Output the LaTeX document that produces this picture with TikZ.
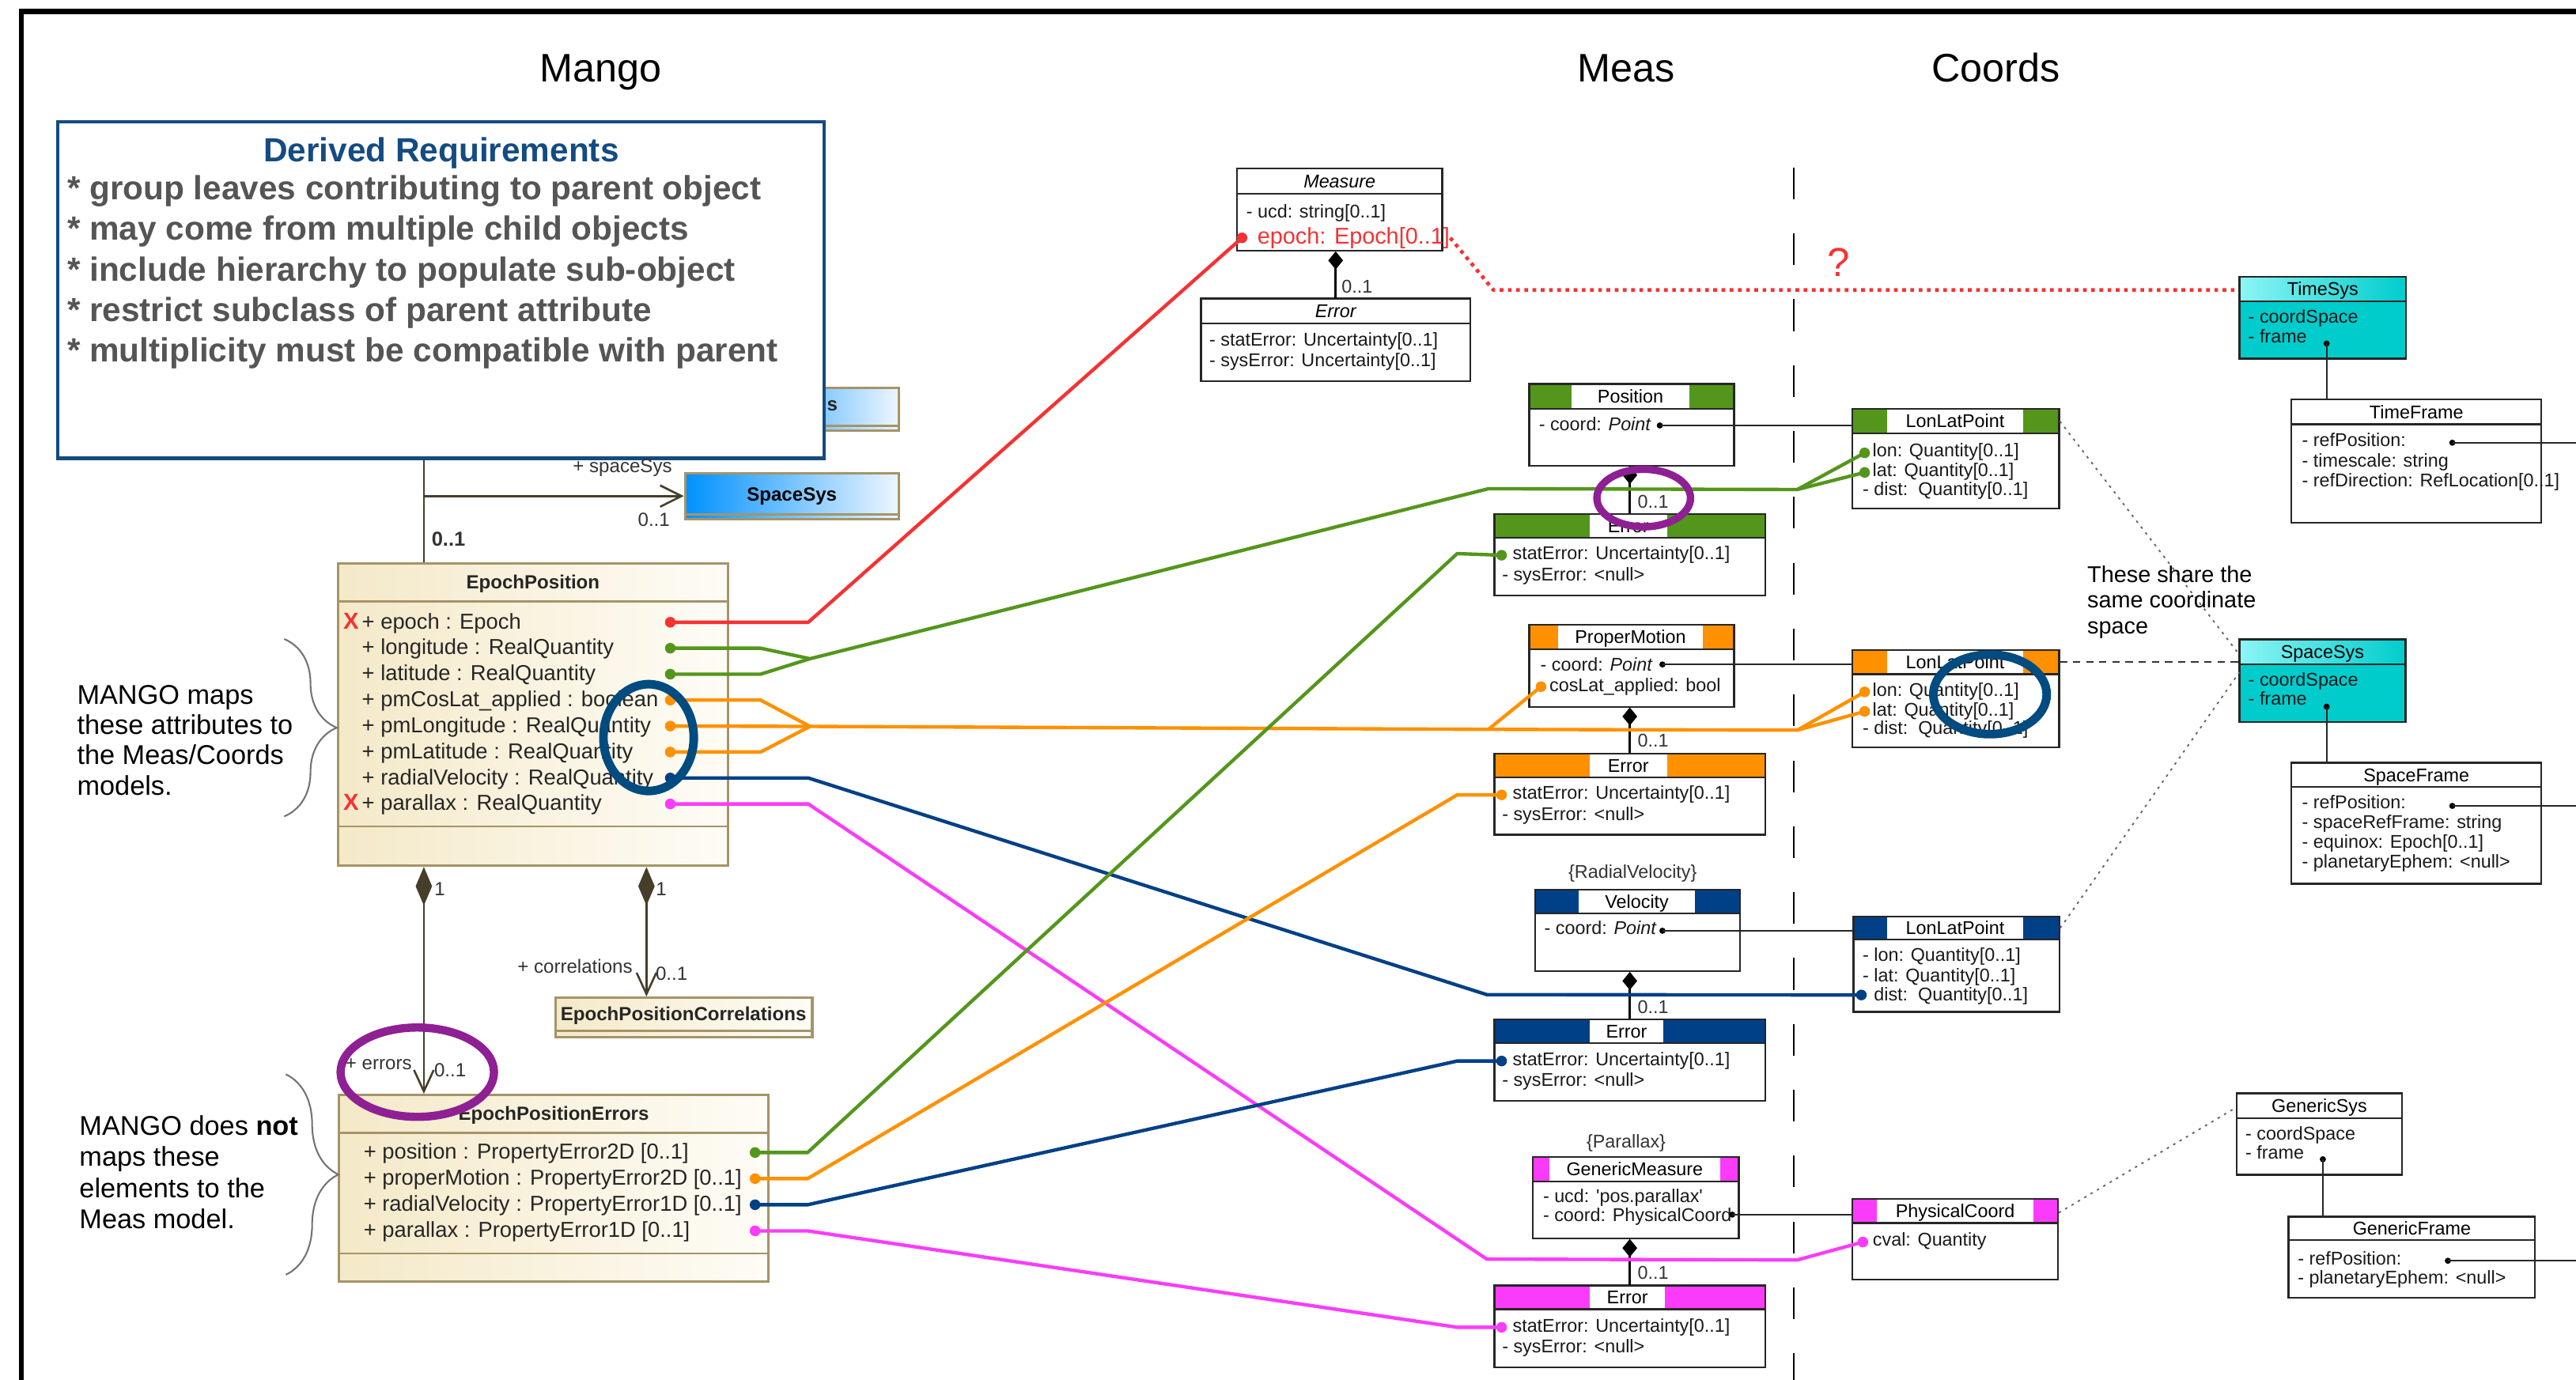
\documentclass[tikz,border=0pt]{standalone}
\usepackage{fontspec}
\setmainfont{Liberation Sans}
\usetikzlibrary{arrows.meta,fit,decorations.pathreplacing}

% colours of the slide
\definecolor{mgreen}{RGB}{84,150,28}
\definecolor{morange}{RGB}{255,145,0}
\definecolor{mblue}{RGB}{0,64,135}
\definecolor{mpink}{RGB}{250,60,250}
\definecolor{mred}{RGB}{245,50,50}
\definecolor{mteal}{RGB}{0,204,204}
\definecolor{mtealL}{RGB}{140,245,245}
\definecolor{creamL}{RGB}{244,233,200}
\definecolor{creamR}{RGB}{254,252,246}
\definecolor{umltan}{RGB}{165,148,105}
\definecolor{skyL}{RGB}{0,145,255}
\definecolor{skyR}{RGB}{238,246,255}
\definecolor{reqblue}{RGB}{20,75,130}
\definecolor{reqgray}{RGB}{85,85,85}
\definecolor{ringblue}{RGB}{0,75,128}
\definecolor{ringpurple}{RGB}{142,32,148}
\definecolor{olivedark}{RGB}{70,62,42}

% font sizes
\newcommand\fatt{\fontsize{6.4}{7}\selectfont}
\newcommand\fbig{\fontsize{7.9}{9}\selectfont}
\newcommand\fmango{\fontsize{7.5}{8.5}\selectfont}
\newcommand\fcls{\fontsize{6.6}{7.5}\selectfont\bfseries}
\newcommand\flbl{\fontsize{6.6}{7.5}\selectfont}
\newcommand\fnote{\fontsize{9.4}{10.5}\selectfont}
\newcommand\freq{\fontsize{11.6}{13.9}\selectfont\bfseries}
\newcommand\fhead{\fontsize{13.8}{16}\selectfont}

% prefix, x, first row, row step, lines
\newcommand\attrs[5]{%
  \foreach \t [count=\i from 0] in {#5}
    \node[att] (#1\i) at (#2,{#3+#4*\i+3.4}) {\t};}

\tikzset{
  att/.style={inner sep=0pt, anchor=base west, font=\fatt, text=black!90},
  matt/.style={inner sep=0pt, anchor=base west, font=\fmango, text=black!85},
  ttl/.style={inner sep=0pt, anchor=base, font=\fatt},
  ttlit/.style={ttl, font=\fatt\itshape},
  clsttl/.style={inner sep=0pt, anchor=base, font=\fcls, text=black!85},
  lbl/.style={inner sep=0pt, font=\flbl, text=black!80},
  head/.style={inner sep=0pt, anchor=base, font=\fhead},
  note/.style={inner sep=0pt, anchor=base west, font=\fnote},
  reqhead/.style={inner sep=0pt, anchor=base, font=\freq, text=reqblue},
  reqtxt/.style={inner sep=0pt, anchor=base west, font=\freq, text=reqgray},
  xmark/.style={inner sep=0pt, anchor=base west, font=\fontsize{8}{9}\selectfont\bfseries, text=mred},
  boxline/.style={draw=black!85, line width=0.22mm},
  sepline/.style={draw=umltan, line width=0.25mm},
  creambox/.style={draw=umltan, line width=0.3mm, left color=creamL, right color=creamR, inner sep=0pt},
  skybox/.style={draw=umltan, line width=0.3mm, left color=skyL, right color=skyR, inner sep=0pt},
  ptdot/.style={circle, fill=#1, inner sep=0pt, minimum size=1.3mm},
  refdot/.style={circle, fill=black, inner sep=0pt, minimum size=0.75mm},
  link/.style={line width=0.42mm, line join=round},
  refln/.style={draw=black!85, line width=0.22mm},
  shared/.style={draw=black!60, line width=0.18mm, dash pattern=on 0.3mm off 0.6mm},
  shareddash/.style={draw=black!80, line width=0.18mm, dash pattern=on 0.9mm off 0.7mm},
  reddot/.style={draw=mred, line width=0.45mm, dash pattern=on 0.45mm off 0.55mm},
  comp/.style={draw=black, line width=0.25mm, {Diamond[length=2.2mm,width=1.8mm]}-},
  assoc/.style={draw=olivedark, line width=0.25mm},
  ring/.style={draw=#1, line width=1.05mm},
  brc/.style={draw=black!55, line width=0.2mm, decorate, decoration={brace, amplitude=6.4mm}},
}

\begin{document}
\begin{tikzpicture}[x=0.2mm, y=-0.2mm]
\useasboundingbox (0,0) rectangle (1568,840);

% frame of the slide
\draw[line width=0.6mm] (13,850) -- (13,7) -- (1580,7);

% headings
\node[head] (hmango) at (365.6,49.7) {Mango};
\node[head] (hmeas) at (989.8,49.7) {Meas};
\node[head] (hcoords) at (1214.8,49.7) {Coords};

% Meas | Coords divider
\draw[line width=0.22mm, dash pattern=on 3.86mm off 4.16mm] (1091.8,102) -- (1091.8,845);

%%%%%%%%%%%%%%%% Mango %%%%%%%%%%%%%%%%
\coordinate (ax1) at (258,0);
\coordinate (ax2) at (393.5,0);

\node[skybox, minimum width=21.4mm, minimum height=5.2mm] (hidsys) at (493.5,249) {};
\draw[sepline] ([yshift=0.7mm]hidsys.south west) -- ([yshift=0.7mm]hidsys.south east);
\node[skybox, minimum width=26mm, minimum height=5.6mm, font=\fcls] (spsys) at (482,302) {SpaceSys};
\draw[sepline] ([yshift=0.7mm]spsys.south west) -- ([yshift=0.7mm]spsys.south east);

% requirements box
\node[draw=reqblue, line width=0.4mm, fill=white, minimum width=93.3mm, minimum height=41mm, inner sep=0pt] (dreq) at (268.3,176.5) {};
\node[clsttl, anchor=base west] (hidsys-t) at (503,250) {s};
\node[reqhead] (dreq-t) at (268.6,98.4) {Derived Requirements};
\foreach \t [count=\i from 0] in {* group leaves contributing to parent object, * may come from multiple child objects, * include hierarchy to populate sub-object, * restrict subclass of parent attribute, * multiplicity must be compatible with parent}
  \node[reqtxt] (dreq-\i) at (40.6,{121.6+24.7*\i}) {\t};

% EpochPosition
\node[creambox, fit={(205.7,343) (443,527)}] (ep) {};
\draw[sepline] (205.7,366) -- (443,366) (205.7,503) -- (443,503);
\node[clsttl] (ep-t) at (324.4,358.5) {EpochPosition};
\foreach \t [count=\i from 0] in {+ epoch : Epoch, + longitude : RealQuantity, + latitude : RealQuantity, + pmCosLat\_applied : boolean, + pmLongitude : RealQuantity, + pmLatitude : RealQuantity, + radialVelocity : RealQuantity, + parallax : RealQuantity}
  \node[matt] (ep-a\i) at (220,{378.8+15.8*\i+4}) {\t};
\node[xmark] (ep-x0) at (208.7,382.8) {X};
\node[xmark] (ep-x7) at (208.7,{378.8+15.8*7+4}) {X};

% EpochPositionErrors
\node[creambox, fit={(206.4,666.6) (467.6,780.3)}] (epe) {};
\draw[sepline] (206.4,689.5) -- (467.6,689.5) (206.4,763) -- (467.6,763);
\node[clsttl] (epe-t) at (337,682) {EpochPositionErrors};
\foreach \t [count=\i from 0] in {+ position : PropertyError2D [0..1], + properMotion : PropertyError2D [0..1], + radialVelocity : PropertyError1D [0..1], + parallax : PropertyError1D [0..1]}
  \node[matt] (epe-a\i) at (221,{701.6+15.9*\i+4}) {\t};

% EpochPositionCorrelations
\node[creambox, fit={(338,607.4) (494.4,631.2)}] (epc) {};
\draw[sepline] (338,627.5) -- (494.4,627.5);
\node[clsttl] (epc-t) at (416,621.2) {EpochPositionCorrelations};

% associations
\draw[assoc] (ax1 |- dreq.south) -- (ax1 |- ep.north);
\draw[assoc, -{Straight Barb[length=2.6mm,width=2.6mm]}] (ax1 |- spsys.west) -- (spsys.west);
\draw[assoc, {Diamond[length=4.7mm,width=2mm]}-{Straight Barb[length=2.6mm,width=2.4mm]}] (ax1 |- ep.south) -- (ax1 |- epe.north);
\draw[assoc, {Diamond[length=4.7mm,width=2mm]}-{Straight Barb[length=2.6mm,width=2.4mm]}] (ax2 |- ep.south) -- (ax2 |- epc.north);
\node[lbl] (l-ss) at (378.9,285) {+ spaceSys};
\node[lbl] (l-ssm) at (398,316.6) {0..1};
\node[lbl, font=\fontsize{7}{8}\selectfont\bfseries] (l-epm) at (273,328.3) {0..1};
\node[lbl] (l-e1) at (267.7,541.4) {1};
\node[lbl] (l-c1) at (402.5,541.4) {1};
\node[lbl] (l-er) at (230.5,648) {+ errors};
\node[lbl] (l-erm) at (274,651.7) {0..1};
\node[lbl] (l-co) at (350,588.4) {+ correlations};
\node[lbl] (l-com) at (408.8,592.5) {0..1};

% notes with braces
\draw[brc] (173,389) -- (173,497);
\foreach \t [count=\i from 0] in {MANGO maps, these attributes to, the Meas\slash Coords, models.}
  \node[note] (n1-\i) at (46.6,{428.5+18.5*\i}) {\t};
\draw[brc] (174,654) -- (174,776);
\foreach \t [count=\i from 0] in {MANGO does \textbf{not}, maps these, elements to the, Meas model.}
  \node[note] (n2-\i) at (48,{691+19*\i}) {\t};

%%%%%%%%%%%%%%%% Meas / Coords %%%%%%%%%%%%%%%%
% plain boxes: name / x1 / y1 / x2 / title bottom / y2 / fill / title left / style / title
\foreach \nm/\xa/\ya/\xb/\yt/\yb/\fl/\tl/\st/\ttl in {
  ms/753/102.7/877.8/118/152.7/white/white/ttlit/Measure,
  mserr/731/181.8/895/197/231.9/white/white/ttlit/Error,
  tsys/1363.1/168.5/1464.6/183.5/218.3/mteal/mtealL/ttl/TimeSys,
  tframe/1394.8/243.1/1546.9/258.3/318.2/white/white/ttl/TimeFrame,
  ssys/1363.1/389.3/1464.2/404.4/439.6/mteal/mtealL/ttl/SpaceSys,
  sframe/1394.8/464.3/1546.9/479.1/538/white/white/ttl/SpaceFrame,
  gsys/1361.5/665.5/1462/680.6/715.2/white/white/ttl/GenericSys,
  gframe/1393/740.7/1543.1/754.9/790.1/white/white/ttl/GenericFrame}{
  \fill[\fl] (\xa,\ya) rectangle (\xb,\yb);
  \shade[left color=\tl, right color=\fl] (\xa,\ya) rectangle (\xb,\yt);
  \draw[boxline] (\xa,\ya) rectangle (\xb,\yb) (\xa,\yt) -- (\xb,\yt);
  \node[fit={(\xa,\ya) (\xb,\yb)}, inner sep=0pt] (\nm) {};
  \node[\st] (\nm-t) at ({(\xa+\xb)/2},{(\ya+\yt)/2+4}) {\ttl};
}

% coloured boxes: name / x1 / y1 / x2 / title bottom / y2 / white from / white to / colour / title
\foreach \nm/\xa/\ya/\xb/\yt/\yb/\wa/\wb/\cl/\ttl in {
  pos/930.8/233.7/1055.5/248.8/283.4/956.5/1028.4/mgreen/Position,
  poserr/909.6/313/1074.5/327.3/362.6/967.7/1014.6/mgreen/Error,
  pm/930.8/380.4/1055.5/395.3/430.3/948.5/1036.4/morange/ProperMotion,
  pmerr/909.6/458.8/1074.5/473.2/508.2/967.7/1014.6/morange/Error,
  vel/934.5/541.5/1059.2/556.2/591.3/960.8/1031.9/mblue/Velocity,
  velerr/909.6/620.5/1074.5/635/670.2/967.7/1012.4/mblue/Error,
  gm/932.9/704.2/1058.4/719.3/753.9/942.9/1047.2/mpink/GenericMeasure,
  gmerr/909.6/782.5/1074.5/797/832.3/967.7/1013.5/mpink/Error,
  llpa/1127.4/249/1253.4/263.8/309.7/1148.8/1231.3/mgreen/LonLatPoint,
  llpb/1127.4/395.7/1253.4/410.4/455.1/1148.8/1231.3/morange/LonLatPoint,
  llpc/1128.2/557.8/1253.7/572.1/616/1148.8/1231.3/mblue/LonLatPoint,
  pc/1127.4/729.9/1252.8/744.5/779/1142.6/1237.6/mpink/PhysicalCoord}{
  \fill[white] (\xa,\ya) rectangle (\xb,\yb);
  \fill[\cl] (\xa,\ya) rectangle (\xb,\yt);
  \fill[white] (\wa,\ya) rectangle (\wb,\yt);
  \draw[boxline] (\xa,\ya) rectangle (\xb,\yb) (\xa,\yt) -- (\xb,\yt);
  \node[fit={(\xa,\ya) (\xb,\yb)}, inner sep=0pt] (\nm) {};
  \node[ttl] (\nm-t) at ({(\wa+\wb)/2},{(\ya+\yt)/2+4}) {\ttl};
}

% attributes
\attrs{ms-a}{758.3}{129}{0}{- ucd: string[0..1]}
\node[att, font=\fbig, text=mred] (ms-ept) at (765,148.4) {epoch: Epoch[0..1]};
\attrs{mserr-a}{735.8}{207}{12.9}{- statError: Uncertainty[0..1], - sysError: Uncertainty[0..1]}
\attrs{pos-a}{936.4}{258.5}{0}{- coord: \textit{Point}}
\attrs{pm-a}{937.3}{405}{0}{- coord: \textit{Point}}
\node[att] (pm-a1) at (942.8,420.8) {cosLat\_applied: bool};
\node[lbl, font=\fatt] (vel-s) at (993.8,531.7) {\{RadialVelocity\}};
\attrs{vel-a}{939.7}{565.3}{0}{- coord: \textit{Point}}
\node[lbl, font=\fatt] (gm-s) at (989.8,696.1) {\{Parallax\}};
\attrs{gm-a}{938.9}{728.6}{11.4}{- ucd: \textquotesingle pos.parallax\textquotesingle, - coord: PhysicalCoord}
\foreach \nm/\cl/\ys in {pe/mgreen/337.4, pme/morange/483.3, ve/mblue/645.3, gme/mpink/807.4}{
  \node[att] (\nm-s) at (920.4,\ys+3.4) {statError: Uncertainty[0..1]};
  \node[att] (\nm-y) at (914,\ys+16) {- sysError: \textless null\textgreater};
  \node[ptdot=\cl] (\nm-stat) at (914,\ys+0.6) {};
}
\foreach \nm/\cl/\ya in {llpa/mgreen/274.8, llpb/morange/420.3}{
  \node[att] (\nm-a0) at (1139.5,\ya+3.4) {lon: Quantity[0..1]};
  \node[att] (\nm-a1) at (1139.5,\ya+15.5) {lat: Quantity[0..1]};
  \node[att] (\nm-a2) at (1133.5,\ya+26.6) {- dist:\ \ Quantity[0..1]};
  \node[ptdot=\cl] (\nm-lon) at (1135,\ya+0.9) {};
  \node[ptdot=\cl] (\nm-lat) at (1135,\ya+12.8) {};
}
\attrs{llpc-a}{1133.5}{581.9}{12.2}{- lon: Quantity[0..1], - lat: Quantity[0..1]}
\node[att] (llpc-a2) at (1140.3,609.1) {dist:\ \ Quantity[0..1]};
\node[att] (pc-a0) at (1139.6,758.7) {cval: Quantity};
\attrs{tsys-a}{1368.2}{193.1}{12}{- coordSpace, - frame}
\attrs{tframe-a}{1400.9}{268.6}{12.2}{- refPosition:, - timescale: string, - refDirection: RefLocation[0..1]}
\attrs{ssys-a}{1368.2}{414}{12}{- coordSpace, - frame}
\attrs{sframe-a}{1400.9}{488.9}{12.1}{- refPosition:, - spaceRefFrame: string, - equinox: Epoch[0..1], - planetaryEphem: \textless null\textgreater}
\attrs{gsys-a}{1366.5}{690.4}{11.9}{- coordSpace, - frame}
\attrs{gframe-a}{1398.3}{766.4}{11.8}{- refPosition:, - planetaryEphem: \textless null\textgreater}

% compositions
\foreach \ua/\ub/\lx/\ly in {ms/mserr/826/174.6, pos/poserr/1006.2/305.5, pm/pmerr/1006.2/451, vel/velerr/1006.2/613, gm/gmerr/1006.2/774.9}{
  \draw[comp] (\ub.north |- \ua.south) -- (\ub.north);
  \node[lbl, font=\fatt] (\ub-m) at (\lx,\ly) {0..1};
}

% reference points of coordinates and frames
\node[refdot] (pos-c) at (1010.3,259) {};
\node[refdot] (pm-c) at (1011.9,404.5) {};
\node[refdot] (vel-c) at (1011.9,566.6) {};
\node[refdot] (gm-c) at (1054.4,739.4) {};
\node[refdot] (ts-f) at (1416.2,209.1) {};
\node[refdot] (ss-f) at (1416.2,430.2) {};
\node[refdot] (gs-f) at (1413.9,705.7) {};
\node[refdot] (tf-r) at (1492.7,269.5) {};
\node[refdot] (sf-r) at (1492.7,490.6) {};
\node[refdot] (gf-r) at (1490,767.5) {};
\coordinate (redge) at (1575,0);
\draw[refln] (pos-c.center) -- (pos-c -| llpa.west);
\draw[refln] (pm-c.center) -- (pm-c -| llpb.west);
\draw[refln] (vel-c.center) -- (vel-c -| llpc.west);
\draw[refln] (gm-c.center) -- (gm-c -| pc.west);
\draw[refln] (ts-f.center) -- (ts-f |- tframe.north);
\draw[refln] (ss-f.center) -- (ss-f |- sframe.north);
\draw[refln] (gs-f.center) -- (gs-f |- gframe.north);
\draw[refln] (tf-r.center) -- (tf-r -| redge);
\draw[refln] (sf-r.center) -- (sf-r -| redge);
\draw[refln] (gf-r.center) -- (gf-r -| redge);

% shared coordinate space
\coordinate (ssys-in) at (1363.1,409.2);
\draw[shared] (llpa.east |- llpa-t) -- (ssys.west |- ssys-t);
\draw[shareddash] (llpb.east |- llpb-t) -- (ssys.west |- llpb-t);
\draw[shared] (llpc.east |- llpc-t) -- (ssys-in);
\draw[shared] (pc.east |- pc-t) -- (gsys.west |- gsys-t);
\foreach \t [count=\i from 0] in {These share the, same coordinate, space}
  \node[note, font=\fbig] (sh-\i) at (1270.2,{354.5+15.6*\i}) {\t};

% epoch of Measure vs TimeSys
\coordinate (qbend) at (909,176.5);
\draw[reddot] (ms-ept.east) -- (qbend) -- (qbend -| tsys.west);
\node[inner sep=0pt, anchor=base, font=\fontsize{14}{16}\selectfont, text=mred] (qmark) at (1119,168.5) {?};

%%%%%%%%%%%%%%%% mapping lines %%%%%%%%%%%%%%%%
\foreach \nm/\cl [count=\i from 0] in {epoch/mred,lon/mgreen,lat/mgreen,pmcos/morange,pmlon/morange,pmlat/morange,rv/mblue,plx/mpink}
  \node[ptdot=\cl] (ep-\nm) at (408,{378.8+15.8*\i}) {};
\foreach \nm/\cl [count=\i from 0] in {pos/mgreen,pm/morange,rv/mblue,plx/mpink}
  \node[ptdot=\cl] (epe-\nm) at (459.6,{701.6+15.9*\i}) {};
\node[ptdot=mred] (ms-ep) at (756,144.8) {};
\node[ptdot=morange] (pm-cos) at (938,418) {};
\node[ptdot=mblue] (llpc-dist) at (1133,605.7) {};
\node[ptdot=mpink] (pc-cval) at (1133.9,756.1) {};

\coordinate (gmerge) at (493,401);
\coordinate (gsplit) at (1094,298);
\coordinate (omerge) at (493,442.2);
\coordinate (obranch) at (906,444);
\coordinate (osplit) at (1094,444.5);

\draw[link, mred] (ep-epoch.center) -- ++(84,0) -- (ms-ep.center);
\draw[link, mgreen] (ep-lon.center) -- ++(55,0) -- (gmerge) -- (906,297.5) -- (gsplit) -- (llpa-lon.center);
\draw[link, mgreen] (ep-lat.center) -- ++(55,0) -- (gmerge);
\draw[link, mgreen] (gsplit) -- (llpa-lat.center);
\draw[link, morange] (ep-pmlon.center) -- (omerge) -- (obranch) -- (osplit) -- (llpb-lon.center);
\draw[link, morange] (ep-pmcos.center) -- ++(55,0) -- (omerge);
\draw[link, morange] (ep-pmlat.center) -- ++(55,0) -- (omerge);
\draw[link, morange] (osplit) -- (llpb-lat.center);
\draw[link, morange] (obranch) -- (pm-cos.center);
\draw[link, mblue] (ep-rv.center) -- ++(84,0) -- (905,605.5) -- (llpc-dist.center);
\draw[link, mpink] (ep-plx.center) -- ++(84,0) -- (905,766.5) -- (1094,767) -- (pc-cval.center);

\draw[link, mgreen] (epe-pos.center) -- ++(32,0) -- (887,337) -- (pe-stat.center);
\draw[link, morange] (epe-pm.center) -- ++(32,0) -- (887,483.9) -- (pme-stat.center);
\draw[link, mblue] (epe-rv.center) -- ++(32,0) -- (887,645.9) -- (ve-stat.center);
\draw[link, mpink] (epe-plx.center) -- ++(32,0) -- (887,808) -- (gme-stat.center);

% highlight rings
\draw[ring=ringblue] (394.8,449) ellipse [x radius=5.5mm, y radius=6.5mm];
\draw[ring=ringblue] (1211.3,422.7) ellipse [x radius=6.9mm, y radius=4.84mm];
\draw[ring=ringpurple, line width=0.9mm] (1000.5,303.2) ellipse [x radius=5.7mm, y radius=3.5mm];
\draw[ring=ringpurple, line width=1mm] (254,652.7) ellipse [x radius=9.34mm, y radius=5.44mm];

\end{tikzpicture}
\end{document}
